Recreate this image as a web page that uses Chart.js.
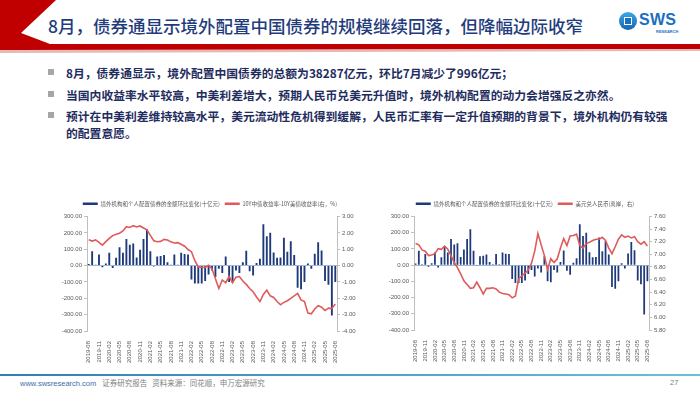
<!DOCTYPE html>
<html lang="zh-CN">
<head>
  <meta charset="UTF-8" />
  <title>债券通境外配置</title>
  <style>
    html, body { margin: 0; padding: 0; }
    body {
      width: 700px;
      height: 394px;
      position: relative;
      overflow: hidden;
      background: #fff;
      font-family: "Noto Sans CJK SC", sans-serif;
    }

    .band { position: absolute; left: 0; top: 0; }

    .title {
      position: absolute;
      left: 48px;
      top: 16px;
      font-size: 17.5px;
      line-height: 20px;
      font-weight: 500;
      color: #1f3c7c;
      white-space: nowrap;
    }

    .logo { position: absolute; left: 619px; top: 11px; width: 70px; height: 26px; }
    .logo .icon {
      position: absolute; left: 0; top: 1px; width: 18px; height: 18px; border-radius: 50%;
      background: linear-gradient(180deg, #39a9e6, #1565b5);
    }
    .logo .icon:after {
      content: ""; position: absolute; left: 5px; top: 5px; width: 6px; height: 6px;
      border: 1.5px solid #fff; background: #1a6fc0;
    }
    .logo .sws {
      position: absolute; left: 20px; top: 0; font-family: "Liberation Sans", sans-serif;
      font-weight: bold; font-size: 16px; line-height: 18px; color: #1b6fc0; letter-spacing: 0.3px;
    }
    .logo .res {
      position: absolute; left: 37px; top: 18px; font-family: "Liberation Sans", sans-serif;
      font-weight: bold; font-size: 4px; color: #1b6fc0;
    }

    .points {
      position: absolute; left: 48px; top: 64px; margin: 0; padding: 0; list-style: none;
    }
    .points li {
      position: relative; padding-left: 18px; font-size: 11.8px; line-height: 17px;
      font-weight: bold; color: #1f2d5e; margin-bottom: 4.5px; white-space: nowrap;
    }
    .points li:before {
      content: ""; position: absolute; left: 0; top: 5px; width: 6px; height: 6px; background: #a6a6a6;
    }

    .chart-box { position: absolute; }
    #box1 { left: 55px; top: 196px; width: 310px; height: 169px; }
    #box2 { left: 375px; top: 196px; width: 300px; height: 168px; }

    .foot-line {
      position: absolute; left: 0; top: 374px; width: 700px; height: 2px;
      background: linear-gradient(90deg, #2f7fb8, #6cc0d6);
    }
    .footer {
      position: absolute; left: 20px; top: 378px; font-size: 7.5px; line-height: 10px; color: #7f7f7f; white-space: nowrap;
    }
    .footer .url { color: #3a6fa8; font-family: "Liberation Sans", sans-serif; margin-right: 6px; }
    .page { position: absolute; left: 670px; top: 378px; font-size: 7.5px; line-height: 10px; color: #7f7f7f; font-family: "Liberation Sans", sans-serif; }
  </style>
</head>
<body>
  <svg class="band" width="700" height="56">
    <polygon points="0,0 56,0 21,33 50,44 700,44 700,49 0,50" fill="#c00000" />
    <polygon points="0,50 700,49 700,51 0,53" fill="#e6b8b8" />
  </svg>
  <div class="title">8月，债券通显示境外配置中国债券的规模继续回落，但降幅边际收窄</div>
  <div class="logo">
    <div class="icon"></div>
    <div class="sws">SWS</div>
    <div class="res">RESEARCH</div>
  </div>

  <ul class="points">
    <li>8月，债券通显示，境外配置中国债券的总额为38287亿元，环比7月减少了996亿元；</li>
    <li>当国内收益率水平较高，中美利差增大，预期人民币兑美元升值时，境外机构配置的动力会增强反之亦然。</li>
    <li>预计在中美利差维持较高水平，美元流动性危机得到缓解，人民币汇率有一定升值预期的背景下，境外机构仍有较强<br>的配置意愿。</li>
  </ul>

  <div class="chart-box" id="box1"><canvas id="spreadChart"></canvas></div>
  <div class="chart-box" id="box2"><canvas id="fxChart"></canvas></div>

  <div class="foot-line"></div>
  <div class="footer"><span class="url">www.swsresearch.com</span>证券研究报告&nbsp;&nbsp;&nbsp;资料来源：同花顺，申万宏源研究</div>
  <div class="page">27</div>

  <script src="https://cdn.jsdelivr.net/npm/chart.js"></script>
  <script>
    // months 2019-08 .. 2025-08
    const months = [
      '2019-08', '2019-09', '2019-10', '2019-11', '2019-12',
      '2020-01', '2020-02', '2020-03', '2020-04', '2020-05', '2020-06', '2020-07', '2020-08', '2020-09', '2020-10', '2020-11', '2020-12',
      '2021-01', '2021-02', '2021-03', '2021-04', '2021-05', '2021-06', '2021-07', '2021-08', '2021-09', '2021-10', '2021-11', '2021-12',
      '2022-01', '2022-02', '2022-03', '2022-04', '2022-05', '2022-06', '2022-07', '2022-08', '2022-09', '2022-10', '2022-11', '2022-12',
      '2023-01', '2023-02', '2023-03', '2023-04', '2023-05', '2023-06', '2023-07', '2023-08', '2023-09', '2023-10', '2023-11', '2023-12',
      '2024-01', '2024-02', '2024-03', '2024-04', '2024-05', '2024-06', '2024-07', '2024-08', '2024-09', '2024-10', '2024-11', '2024-12',
      '2025-01', '2025-02', '2025-03', '2025-04', '2025-05', '2025-06', '2025-07', '2025-08'
    ];

    // 境外机构和个人配置债券的金额环比变化 (十亿元)
    const flowChange = [
      10, 88, 5, 68, -10,
      12, 78, -15, 48, 112, 78, 162, 128, 135, 50, 97, 162,
      222, 88, -5, 55, 58, 65, 20, 5, 68, 5, 78, 70,
      68, -85, -110, -110, -110, -95, -55, -30, -70, -20, -45, 55,
      -100, -105, -30, -45, 20, 90, -35, -60, 15, 42, 252, 180,
      200, 80, 48, 50, 170, 85, 148, 65, -135, -145, -100, 12,
      -20, 72, 142, 92, -95, -118, -305, -100
    ];

    // 10Y中债收益率 - 10Y美债收益率 (%)
    const yieldSpread = [
      1.58, 1.50, 1.57, 1.42, 1.25,
      1.46, 1.66, 1.83, 1.92, 1.98, 2.12, 2.38, 2.33, 2.44, 2.36, 2.42, 2.30,
      2.18, 1.85, 1.52, 1.46, 1.48, 1.60, 1.56, 1.45, 1.38, 1.40, 1.30, 1.18,
      0.98, 0.85, 0.30, -0.08, -0.10, -0.12, 0.02, -0.20, -0.80, -1.40, -0.88, -1.05,
      -0.66, -1.05, -0.71, -0.67, -0.94, -1.15, -1.40, -1.60, -1.92, -2.20, -1.77, -1.50,
      -1.85, -1.95, -2.20, -2.40, -2.25, -2.15, -2.00, -1.85, -1.70, -2.10, -2.20, -2.90,
      -2.95, -2.65, -2.45, -2.55, -2.75, -2.60, -2.62, -2.35
    ];

    // 美元兑人民币 (离岸)
    const usdCnh = [
      7.17, 7.15, 7.07, 7.05, 6.98,
      6.99, 7.01, 7.09, 7.08, 7.13, 7.08, 6.98, 6.87, 6.79, 6.69, 6.58, 6.52,
      6.46, 6.47, 6.56, 6.47, 6.37, 6.46, 6.46, 6.47, 6.45, 6.40, 6.38, 6.37,
      6.36, 6.31, 6.34, 6.61, 6.66, 6.70, 6.75, 6.86, 7.05, 7.33, 7.15, 6.98,
      6.76, 6.93, 6.87, 6.93, 7.10, 7.25, 7.14, 7.29, 7.30, 7.32, 7.14, 7.10,
      7.17, 7.19, 7.22, 7.24, 7.24, 7.27, 7.22, 7.10, 7.01, 7.12, 7.24, 7.31,
      7.27, 7.29, 7.26, 7.28, 7.20, 7.16, 7.20, 7.13
    ];

    const barLabel = '境外机构和个人配置债券的金额环比变化(十亿元)';
    const spreadLabel = '10Y中债收益率-10Y美债收益率(右，%)';
    const fxLabel = '美元兑人民币(离岸，右)';

    const barBlue = '#1f3a7a';
    const lineRed = '#df5b5b';
    const axisGray = '#bfbfbf';
    const tickFont = { family: 'Liberation Sans', size: 6 };

    function makeChart(id, lineLabel, lineData, right, leftWidth, rightWidth) {
      return new Chart(document.getElementById(id), {
        data: {
          labels: months,
          datasets: [
            {
              type: 'bar',
              label: barLabel,
              data: flowChange,
              yAxisID: 'y',
              backgroundColor: barBlue,
              barPercentage: 0.55,
              categoryPercentage: 1,
              order: 2
            },
            {
              type: 'line',
              label: lineLabel,
              data: lineData,
              yAxisID: 'y1',
              borderColor: lineRed,
              backgroundColor: lineRed,
              borderWidth: 1.6,
              pointRadius: 0,
              tension: 0,
              order: 1
            }
          ]
        },
        options: {
          responsive: true,
          maintainAspectRatio: false,
          animation: false,
          layout: { padding: 0 },
          plugins: {
            tooltip: { enabled: false },
            legend: {
              position: 'top',
              labels: {
                boxWidth: 15,
                boxHeight: 2.5,
                padding: 5,
                color: '#595959',
                font: { family: 'Noto Sans CJK SC', size: 5.5 },
                // keep the bar series first, as in the original
                sort: (a, b) => a.datasetIndex - b.datasetIndex,
                generateLabels: chart =>
                  Chart.defaults.plugins.legend.labels.generateLabels(chart).map(l => ({ ...l, lineWidth: 0 }))
              }
            }
          },
          scales: {
            x: {
              grid: { display: false },
              border: { display: false },
              ticks: {
                autoSkip: false,
                minRotation: 90,
                maxRotation: 90,
                padding: 2,
                color: '#595959',
                font: tickFont,
                callback: (v, i) => (i % 3 === 0 ? months[i] : '')
              },
              afterFit: s => { s.height = 34; }
            },
            y: {
              position: 'left',
              min: -400,
              max: 300,
              ticks: {
                stepSize: 100,
                padding: 2,
                color: '#595959',
                font: tickFont,
                callback: v => v.toFixed(2)
              },
              border: { display: true, color: axisGray },
              grid: {
                drawTicks: true,
                tickLength: 3,
                tickColor: axisGray,
                color: ctx => (ctx.tick && ctx.tick.value === 0 ? '#9fb8d8' : 'rgba(0,0,0,0)')
              },
              afterFit: s => { s.width = leftWidth; }
            },
            y1: {
              position: 'right',
              min: right.min,
              max: right.max,
              ticks: {
                stepSize: right.step,
                padding: 2,
                color: '#595959',
                font: tickFont,
                callback: v => v.toFixed(2)
              },
              border: { display: true, color: axisGray },
              grid: { drawOnChartArea: false, tickLength: 3, tickColor: axisGray },
              afterFit: s => { s.width = rightWidth; }
            }
          }
        }
      });
    }

    makeChart('spreadChart', spreadLabel, yieldSpread, { min: -4, max: 3, step: 1 }, 32, 28);
    makeChart('fxChart', fxLabel, usdCnh, { min: 5.8, max: 7.6, step: 0.2 }, 39, 26);
  </script>
</body>
</html>
